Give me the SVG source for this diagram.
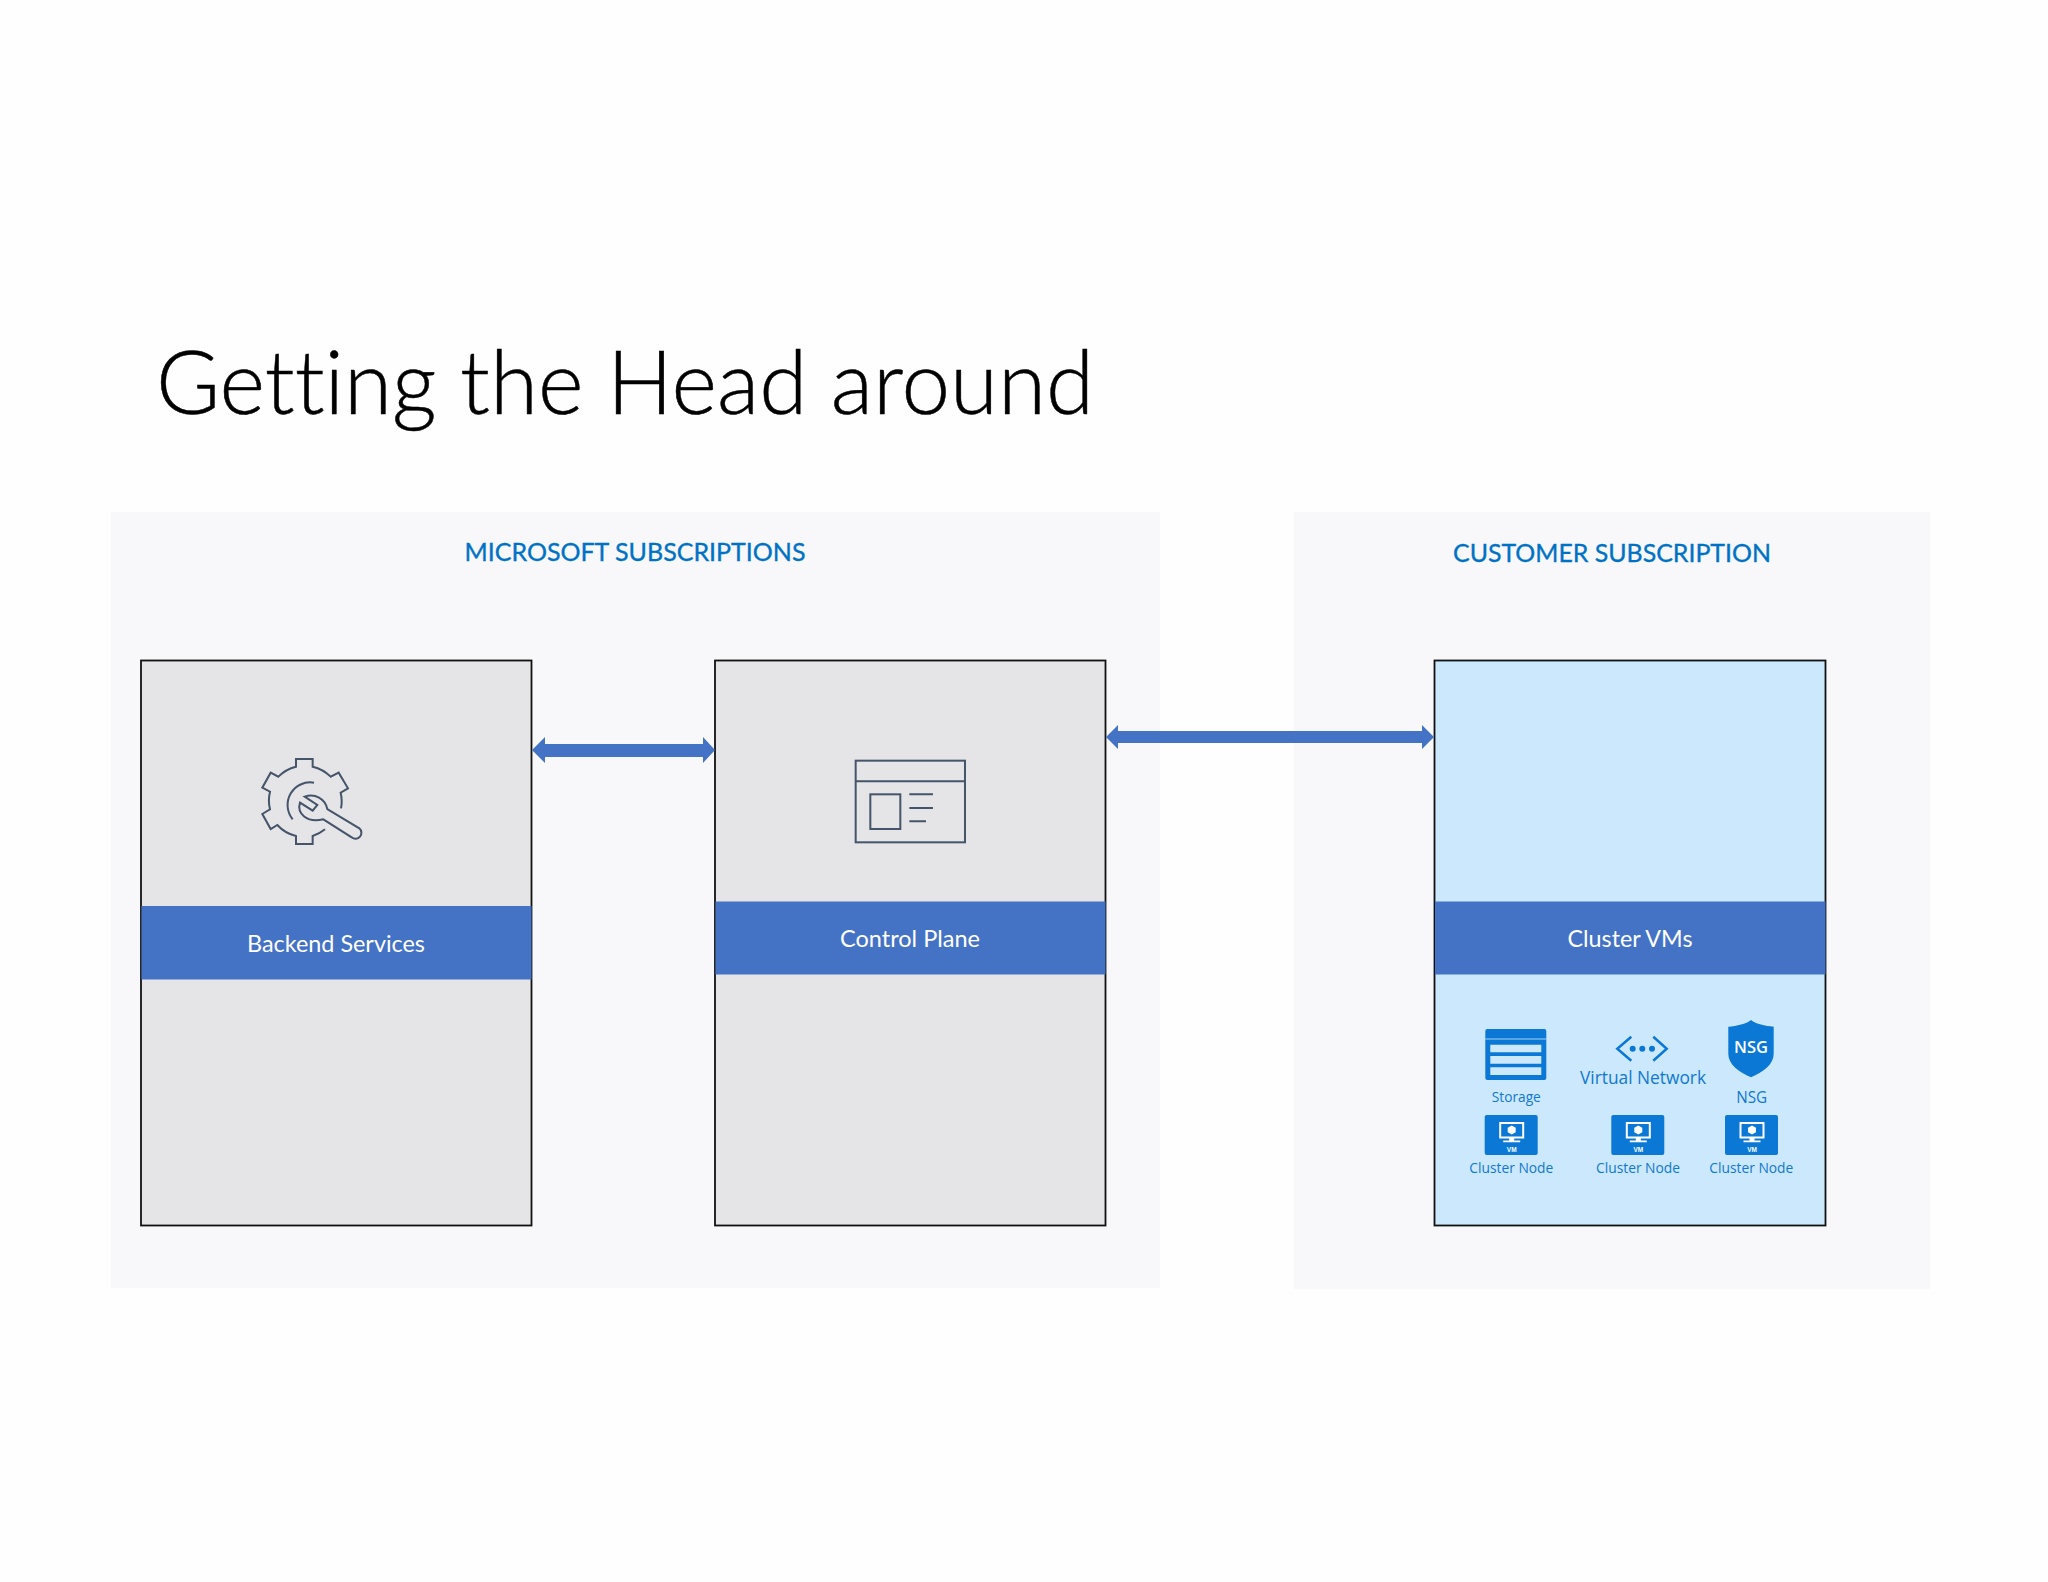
<svg xmlns="http://www.w3.org/2000/svg" width="2048" height="1582" viewBox="0 0 2048 1582">
<defs>
<style>
text{font-family:"Lato","Liberation Sans",sans-serif;font-variant-ligatures:none}
.panel{fill:#f8f8fa}
.box{stroke:#111;stroke-width:1.800px}
.grey{fill:#e5e5e7}
.blue{fill:#cce8fc}
.band{fill:#4472c4}
.bt{fill:#fff;font-size:23px;text-anchor:middle}
.head{fill:#0072c6;stroke:#0072c6;stroke-width:.35px;font-size:25.500px;text-anchor:middle}
.sm{fill:#0f78d0;font-family:"Open Sans","Liberation Sans",sans-serif;font-size:14px;text-anchor:middle}
.arrow{fill:#4472c4}
.ic{fill:#0a78d4}
</style>
<g id="vm">
<rect x="0" y="0" width="53" height="40" rx="2" class="ic"/>
<rect x="15.500" y="8" width="23" height="14.500" fill="none" stroke="#fff" stroke-width="2"/>
<path d="M27 10.500l4 2.200v4.600l-4 2.200-4-2.200v-4.600z" fill="#fff"/>
<path d="M24.500 23h5v2.500h6v1.700h-17v-1.700h6z" fill="#fff"/>
<text x="27" y="37" text-anchor="middle" style="font-family:'Liberation Sans',sans-serif;font-size:6.500px;font-weight:700;fill:#fff">VM</text>
</g>
</defs>
<rect width="2048" height="1582" fill="#fefefe"/>
<text id="title" x="156" y="414" font-size="88" font-weight="300" fill="#000" stroke="#000" stroke-width=".5" textLength="938" lengthAdjust="spacingAndGlyphs">Getting the Head around</text>
<g id="microsoft-subscriptions">
<rect class="panel" x="111" y="512" width="1049" height="776"/>
<text class="head" x="635" y="560.500" textLength="341" lengthAdjust="spacingAndGlyphs">MICROSOFT SUBSCRIPTIONS</text>
</g>
<g id="customer-subscription">
<rect class="panel" x="1294" y="512" width="636" height="777"/>
<text class="head" x="1612" y="562" textLength="318" lengthAdjust="spacingAndGlyphs">CUSTOMER SUBSCRIPTION</text>
</g>
<g id="backend-services">
<rect class="box grey" x="141" y="660.500" width="390.500" height="565"/>
<rect class="band" x="141.500" y="906" width="390" height="73.500"/>
<text class="bt" x="336" y="952" textLength="178" lengthAdjust="spacingAndGlyphs">Backend Services</text>
<g transform="translate(240 740) scale(.3333)" fill="none" stroke="#44546a" stroke-width="6">
<path d="M303 205A110 110 0 0 0 302 158L324 145 296 98 272 110A110 110 0 0 0 218 80V57H168V80A110 110 0 0 0 115 110L92 98 67 143 90 155A110 110 0 0 0 90 208L67 222 92 267 112 255A110 110 0 0 0 168 288V312H218V288A110 110 0 0 0 255 268"/>
<path d="M222 128A68 68 0 0 0 158 238"/>
<path d="M194 170L232 195 218 212 180 188C170 220 200 250 250 238L335 292A15 15 0 0 0 358 265L262 207C255 175 225 160 194 170Z"/>
</g>
</g>
<g id="control-plane">
<rect class="box grey" x="715" y="660.500" width="390.500" height="565"/>
<rect class="band" x="715.500" y="901.500" width="390" height="73"/>
<text class="bt" x="910" y="947" textLength="140" lengthAdjust="spacingAndGlyphs">Control Plane</text>
<g transform="translate(840 740) scale(.3333)" fill="none" stroke="#44546a" stroke-width="6">
<rect x="47" y="62" width="328" height="245"/>
<path d="M47 124H375"/>
<rect x="91" y="163" width="90" height="104"/>
<path d="M208 163H279M208 204H279M208 244H258"/>
</g>
</g>
<g id="cluster-vms">
<rect class="box blue" x="1434.500" y="660.500" width="391" height="565"/>
<rect class="band" x="1435" y="901.500" width="390.500" height="73"/>
<text class="bt" x="1630" y="947" textLength="125" lengthAdjust="spacingAndGlyphs">Cluster VMs</text>
</g>
<g id="storage">
<rect class="ic" x="1485.300" y="1029" width="61" height="51" rx="2"/>
<path d="M1485.300 1039h61" stroke="#cce8fc" stroke-width=".8"/>
<path d="M1490.300 1044.700h51v7.600h-51zM1490.300 1056h51v7.700h-51zM1490.300 1067.300h51v7.700h-51z" fill="#cce8fc"/>
<text class="sm" x="1516.300" y="1101.700" textLength="49" lengthAdjust="spacingAndGlyphs">Storage</text>
</g>
<g id="virtual-network">
<path d="M1631.300 1036.700l-14 12 14 12M1653.300 1036.700l13.400 12-13.400 12" fill="none" stroke="#0a78d4" stroke-width="2.500"/>
<circle class="ic" cx="1632.700" cy="1048.700" r="3"/>
<circle class="ic" cx="1642.300" cy="1048.700" r="3"/>
<circle class="ic" cx="1652" cy="1048.700" r="3"/>
<text class="sm" x="1643" y="1084" style="font-size:17.500px" textLength="126" lengthAdjust="spacingAndGlyphs">Virtual Network</text>
</g>
<g id="nsg">
<path class="ic" d="M1751 1020c5 4 14 6 22.700 6.700v27c0 11-11 18.600-22.700 23.600-11.700-5-22.700-12.600-22.700-23.600v-27c8.700-.7 17.700-2.700 22.700-6.700z"/>
<text x="1751" y="1052.700" text-anchor="middle" textLength="34" lengthAdjust="spacingAndGlyphs" style="font-family:'Open Sans',sans-serif;font-size:15.500px;font-weight:600;fill:#fff">NSG</text>
<text class="sm" x="1751.700" y="1103.300" style="font-size:15.500px" textLength="31" lengthAdjust="spacingAndGlyphs">NSG</text>
</g>
<g id="cluster-node-1"><use href="#vm" x="1484.700" y="1115"/><text class="sm" x="1511.300" y="1172.700" textLength="84" lengthAdjust="spacingAndGlyphs">Cluster Node</text></g>
<g id="cluster-node-2"><use href="#vm" x="1611.300" y="1115"/><text class="sm" x="1638" y="1172.700" textLength="84" lengthAdjust="spacingAndGlyphs">Cluster Node</text></g>
<g id="cluster-node-3"><use href="#vm" x="1725" y="1115"/><text class="sm" x="1751.300" y="1172.700" textLength="84" lengthAdjust="spacingAndGlyphs">Cluster Node</text></g>
<g id="connectors">
<path class="arrow" d="M532 750l13-13v7h158v-7l12 13-12 13v-6H545v6z"/>
<path class="arrow" d="M1106 737l12-12v6h304v-6l12 12-12 12v-6H1118v6z"/>
</g>
</svg>
